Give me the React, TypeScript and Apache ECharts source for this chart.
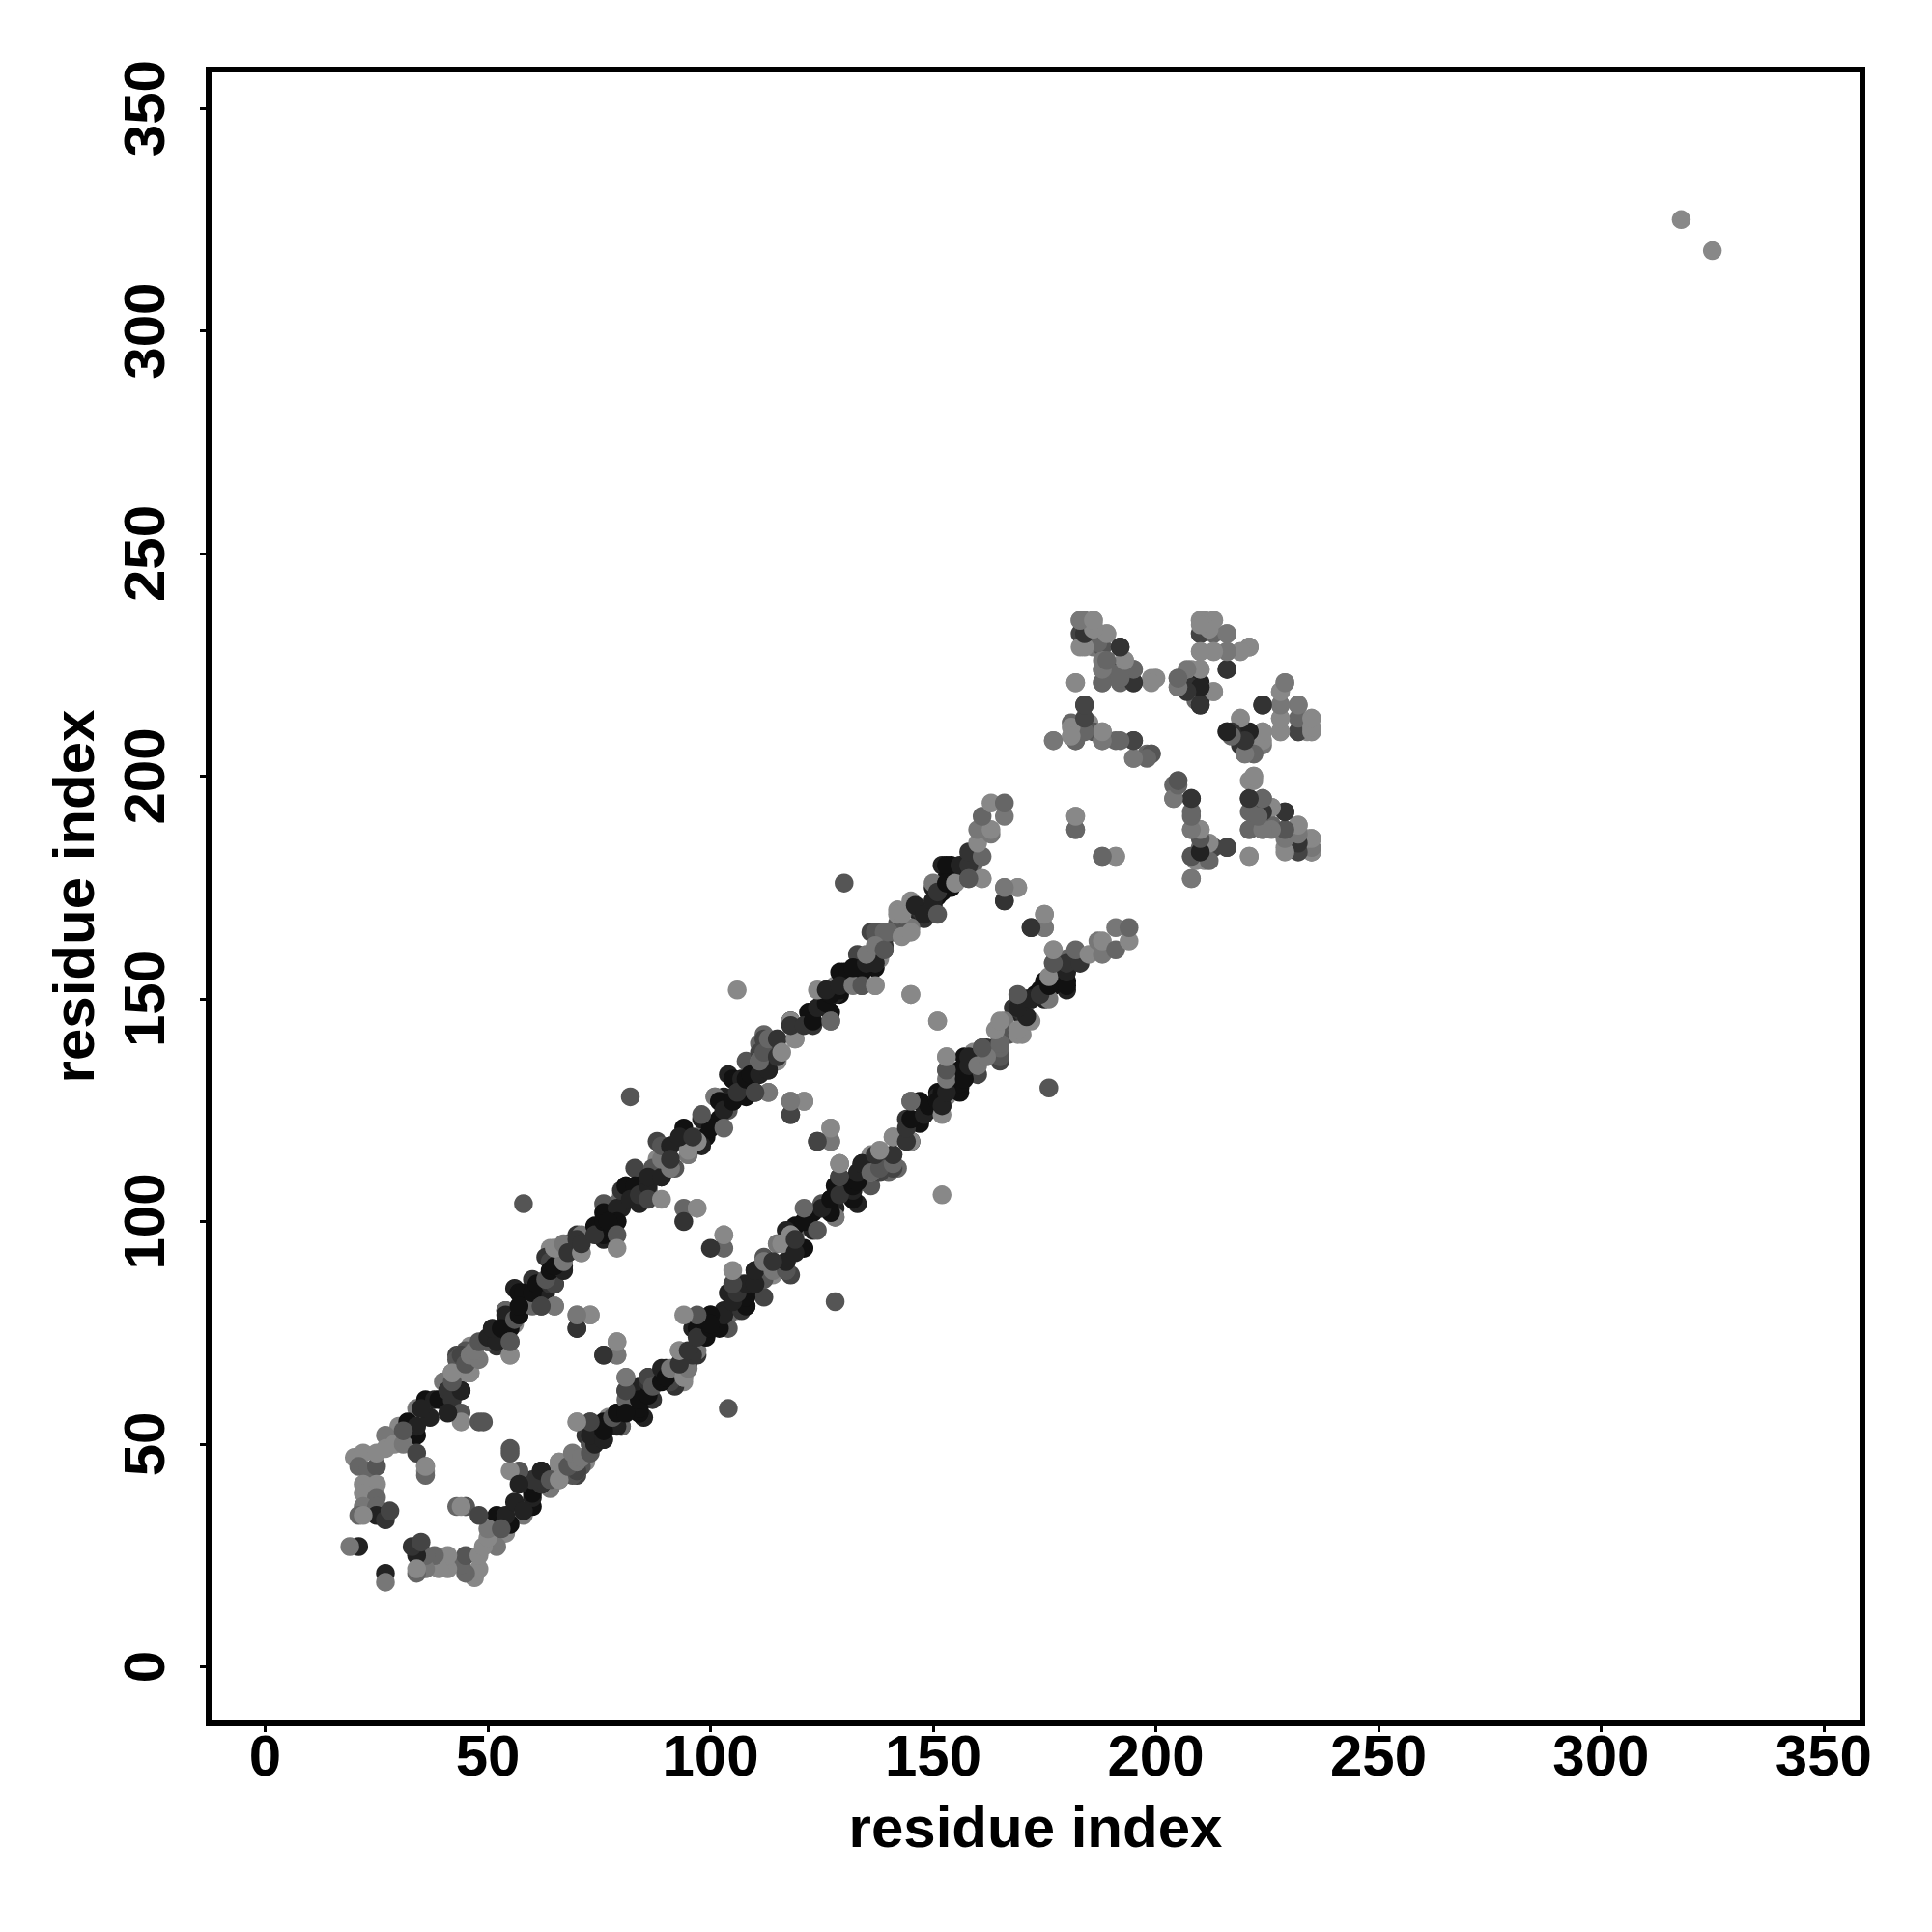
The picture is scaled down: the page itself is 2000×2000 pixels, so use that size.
import React, { useEffect, useRef } from "react";
import * as echarts from "echarts";

const tickValues = [0, 50, 100, 150, 200, 250, 300, 350];
const axisTitle = "residue index";
const axisMin = -12.7;
const axisMax = 358.7;

// [residue i, residue j, darkness level: 1 is darkest, 8 is lightest]
const isolatedContacts = [
  [318, 325, 8], [21, 27, 2], [19, 27, 7],
  [58, 104, 5], [82, 128, 5], [106, 152, 8], [130, 176, 5],
  [62, 81, 4], [65, 81, 7], [70, 79, 7], [73, 79, 8], [70, 76, 3],
  [79, 73, 8], [76, 70, 3], [79, 70, 7], [81, 65, 7], [81, 62, 4],
  [70, 55, 8], [73, 55, 5], [55, 73, 4], [55, 70, 8],
  [44, 57, 5], [44, 55, 8], [48, 55, 5], [41, 57, 2], [55, 49, 5],
  [79, 97, 5], [79, 94, 8], [86, 105, 4], [89, 105, 8],
  [94, 103, 6], [97, 103, 8], [94, 100, 3], [103, 121, 6], [103, 97, 8],
  [110, 129, 4], [113, 129, 8], [118, 127, 7], [121, 127, 8], [118, 124, 4],
  [127, 121, 8], [124, 118, 4], [127, 118, 7], [129, 113, 7], [129, 110, 4], [127, 145, 6],
  [134, 153, 5], [137, 153, 8], [145, 151, 8], [151, 145, 8], [151, 169, 5],
  [158, 177, 5], [161, 177, 8], [166, 175, 7], [169, 175, 8], [166, 172, 3],
  [175, 169, 8], [172, 166, 3], [175, 166, 7], [177, 161, 8], [177, 158, 5],
  [182, 191, 8], [182, 188, 6], [188, 182, 6], [191, 182, 8],
];

const cornerContacts = [
  [20, 47, 8], [22, 48, 8], [21, 45, 6], [23, 44, 6], [25, 45, 5], [25, 48, 8],
  [27, 52, 7], [27, 49, 8], [22, 41, 8], [25, 41, 8], [22, 39, 8], [25, 38, 6],
  [22, 36, 7], [21, 34, 6], [25, 36, 6], [25, 34, 2], [27, 33, 3], [22, 34, 8], [28, 35, 4],
  [29, 50, 8], [31, 50, 7], [31, 53, 5], [36, 45, 5], [36, 44, 8], [34, 48, 4], [43, 36, 6], [45, 36, 8],
];

const edgeContacts = [
  [112, 142, 6], [111, 140, 6], [88, 118, 4], [64, 94, 8], [63, 92, 3], [43, 70, 4], [136, 165, 4], [141, 165, 6],
  [142, 170, 8], [101, 128, 6], [104, 133, 2], [152, 180, 2], [56, 85, 2], [92, 112, 5], [95, 115, 8],
  [139, 161, 4], [147, 169, 2], [46, 66, 8], [40, 64, 7], [60, 87, 3], [83, 112, 4], [108, 136, 5], [133, 160, 4],
];

const denseBandContacts = [
  [81, 105, 1], [81, 108, 1], [84, 108, 1], [80, 106, 8], [84, 104, 2], [89, 110, 1], [86, 107, 5],
  [79, 100, 1], [75, 99, 1], [75, 97, 2], [76, 96, 2], [78, 97, 5], [77, 101, 3], [79, 104, 6], [80, 103, 2],
  [71, 93, 8], [65, 94, 8], [68, 95, 4], [67, 92, 4], [70, 97, 3],
  [67, 90, 2], [65, 86, 2], [64, 88, 3], [64, 91, 4], [64, 87, 5], [61, 84, 2], [62, 82, 1], [57, 84, 1],
  [59, 82, 2], [58, 83, 2], [63, 84, 2],
  [54, 80, 4], [57, 79, 1], [56, 79, 1], [56, 77, 8], [55, 76, 1], [53, 74, 1], [51, 76, 2], [50, 73, 5], [52, 72, 3],
  [46, 72, 8], [47, 69, 8], [44, 70, 8], [45, 71, 5], [43, 69, 5], [45, 66, 8], [42, 66, 6], [42, 64, 8], [44, 62, 1], [41, 62, 1],
  [130, 156, 1], [128, 153, 8], [137, 153, 8], [134, 153, 5], [137, 157, 1], [134, 156, 1], [131, 154, 1], [129, 151, 1],
  [127, 147, 1], [123, 147, 2], [127, 145, 5], [123, 144, 3], [125, 149, 3], [126, 152, 7], [118, 145, 6], [118, 145, 3],
  [119, 141, 8], [115, 141, 8], [112, 141, 4], [115, 139, 6], [115, 136, 8], [114, 138, 3], [111, 138, 4], [111, 136, 8],
  [113, 134, 1], [108, 132, 1], [105, 132, 2], [110, 129, 4], [113, 129, 8], [105, 127, 1], [103, 128, 2], [104, 126, 7],
  [102, 123, 1], [99, 121, 6], [99, 119, 1], [98, 117, 2], [97, 118, 7], [95, 115, 7], [94, 118, 5], [91, 117, 3],
  [89, 117, 4], [91, 113, 5], [91, 112, 6], [88, 114, 8],
  [154, 180, 1], [153, 177, 1], [154, 175, 1], [150, 172, 1], [148, 168, 3], [150, 175, 2], [151, 173, 1], [150, 171, 1],
  [152, 174, 1], [157, 179, 3], [159, 180, 6], [156, 178, 1], [147, 170, 3], [145, 166, 7], [142, 167, 5], [140, 165, 6],
  [138, 165, 3], [136, 160, 5], [137, 158, 1], [138, 159, 8],
];

const upperBandContacts = [
  [30, 54, 8], [34, 58, 7], [32, 55, 1], [32, 52, 1], [34, 52, 1], [34, 54, 2], [36, 60, 1], [38, 60, 2], [37, 56, 2],
  [35, 58, 2], [39, 60, 1], [41, 62, 3], [42, 60, 3], [44, 62, 2], [42, 64, 5], [42, 66, 8],
  [44, 70, 4], [46, 66, 8], [45, 68, 5], [46, 70, 7], [48, 69, 7], [47, 71, 7], [48, 73, 5],
  [50, 73, 5], [50, 74, 2], [52, 73, 2], [51, 76, 2], [54, 80, 6], [54, 79, 2], [53, 76, 1],
  [56, 78, 5], [57, 79, 1], [57, 84, 1], [58, 84, 1], [60, 81, 6], [57, 81, 1], [60, 84, 1],
  [61, 86, 1], [64, 86, 3], [65, 86, 4], [63, 87, 5], [64, 89, 1], [67, 89, 2], [65, 90, 1],
  [67, 91, 7], [65, 94, 8], [67, 95, 7], [68, 93, 3], [71, 97, 7], [70, 96, 3], [71, 93, 8], [71, 95, 3],
  [74, 99, 1], [76, 97, 1], [74, 97, 3], [76, 100, 1], [78, 98, 1],
  [76, 104, 5], [76, 102, 1], [79, 103, 2], [79, 100, 1], [77, 100, 1], [80, 107, 3], [81, 108, 1],
  [83, 108, 1], [82, 105, 2], [84, 106, 3], [86, 108, 2], [87, 112, 5], [86, 110, 2], [89, 110, 2],
  [89, 114, 7], [89, 117, 5], [91, 117, 2], [91, 112, 7], [91, 114, 3], [94, 121, 1], [95, 116, 8],
  [97, 118, 8], [93, 119, 2], [96, 119, 3], [98, 123, 2], [100, 121, 1], [98, 124, 5], [101, 128, 7],
  [102, 127, 1], [104, 125, 5], [103, 125, 2], [105, 127, 1], [105, 132, 1], [107, 132, 2], [108, 128, 1],
  [106, 129, 3], [108, 132, 1], [109, 133, 1], [111, 133, 2], [113, 134, 2], [111, 136, 6], [112, 138, 5],
  [113, 141, 6], [115, 141, 3], [115, 137, 3], [116, 138, 8], [119, 141, 8], [118, 145, 8], [118, 144, 3],
  [122, 147, 1], [121, 144, 3], [123, 145, 1], [124, 148, 2], [126, 149, 1], [126, 152, 6], [128, 151, 2], [129, 152, 1],
  [124, 152, 8], [127, 151, 1], [126, 152, 2], [129, 156, 1], [131, 156, 1], [129, 153, 2], [132, 153, 7],
  [132, 157, 1], [135, 158, 2], [137, 158, 2], [135, 160, 7], [139, 162, 3], [137, 165, 5], [139, 165, 6],
  [137, 162, 7], [139, 161, 5], [140, 165, 6], [143, 164, 8], [145, 165, 8], [142, 169, 8], [143, 169, 8], [145, 172, 8], [146, 171, 2], [148, 169, 2],
  [150, 172, 2], [150, 176, 7], [151, 174, 3], [153, 180, 1], [153, 176, 1], [155, 176, 8], [156, 180, 2],
  [158, 180, 3], [158, 183, 3], [161, 182, 6], [160, 185, 8], [163, 187, 7], [160, 188, 7], [163, 188, 8],
  [161, 191, 6], [166, 191, 7], [163, 194, 8], [166, 194, 6],
];

const blobContacts = [
  [183, 235, 8], [184, 235, 7], [186, 235, 8], [186, 234, 8], [183, 232, 4], [185, 232, 3], [183, 229, 8], [186, 229, 7],
  [187, 232, 7], [189, 232, 8], [188, 229, 5], [192, 229, 3], [188, 226, 7], [193, 226, 8], [192, 224, 3],
  [192, 221, 6], [188, 221, 6], [188, 224, 7], [191, 223, 6], [195, 224, 6], [195, 221, 3], [199, 222, 8], [200, 222, 8], [182, 221, 8],
  [210, 232, 4], [213, 232, 6], [216, 232, 7], [210, 235, 8], [211, 235, 8], [213, 235, 8], [210, 228, 8],
  [213, 228, 8], [216, 228, 7], [219, 228, 8], [221, 229, 7], [216, 224, 3], [208, 224, 8], [210, 224, 8],
  [205, 222, 6], [205, 220, 7], [210, 221, 2], [208, 220, 3], [213, 219, 8], [210, 217, 3], [209, 217, 6], [210, 216, 2],
  [229, 221, 8], [228, 219, 8], [224, 216, 3], [232, 216, 7], [228, 216, 7], [228, 213, 8], [232, 210, 4],
  [235, 213, 8], [233, 212, 8], [235, 210, 8], [228, 210, 8], [234, 210, 8],
  [219, 213, 8], [216, 210, 3], [220, 210, 2], [224, 210, 8], [224, 207, 7], [219, 207, 3], [220, 205, 7], [222, 205, 6],
  [184, 216, 4], [177, 208, 7], [181, 212, 6], [182, 208, 5], [185, 212, 8], [183, 210, 2], [186, 210, 5],
  [188, 210, 8], [188, 208, 7], [191, 208, 6], [195, 208, 3], [195, 204, 7], [198, 205, 6], [199, 205, 5],
  [205, 199, 5], [204, 198, 6], [204, 195, 7], [208, 195, 4], [208, 192, 6], [208, 188, 7], [210, 188, 8],
  [208, 182, 6], [210, 184, 6], [211, 181, 8], [209, 181, 8], [213, 184, 4], [216, 184, 4], [208, 177, 7], [221, 182, 8],
  [222, 200, 8], [221, 199, 8], [221, 195, 3], [224, 195, 6], [222, 192, 6], [221, 188, 6], [224, 188, 7],
  [226, 193, 8], [229, 192, 3], [226, 189, 6], [230, 187, 6], [229, 184, 8], [232, 184, 3], [232, 189, 8], [233, 186, 8], [235, 183, 7], [235, 186, 8],
];

const contacts = [...edgeContacts, ...denseBandContacts, ...upperBandContacts, ...cornerContacts, ...blobContacts, ...isolatedContacts];
const points = [...contacts, ...contacts.map(([i, j, level]) => [j, i, level])];

const font = "Liberation Sans";

export default function App() {
  const ref = useRef<HTMLDivElement>(null);
  useEffect(() => {
    const chart = echarts.init(ref.current!, undefined, { renderer: "svg" });
    const axis = (extra: any) => ({
      type: "value",
      min: axisMin,
      max: axisMax,
      name: axisTitle,
      nameLocation: "middle",
      nameTextStyle: { fontFamily: font, fontWeight: "bold", fontSize: 60, color: "#000" },
      axisLine: { show: false, onZero: false },
      axisTick: { show: true, length: 9, lineStyle: { color: "#000", width: 3 }, customValues: tickValues },
      splitLine: { show: false },
      ...extra,
    });
    chart.setOption({
      animation: false,
      backgroundColor: "#fff",
      grid: {
        show: true,
        left: 216,
        top: 72,
        width: 1712,
        height: 1712,
        borderColor: "#000",
        borderWidth: 6,
        backgroundColor: "#fff",
        containLabel: false,
      },
      xAxis: axis({
        nameGap: 77,
        axisLabel: {
          customValues: tickValues,
          fontFamily: font,
          fontWeight: "bold",
          fontSize: 60,
          color: "#000",
          margin: 3,
        },
      }),
      yAxis: axis({
        nameGap: 110,
        nameRotate: 90,
        axisLabel: {
          customValues: tickValues,
          fontFamily: font,
          fontWeight: "bold",
          fontSize: 60,
          color: "#000",
          rotate: 90,
          margin: 67,
          align: "center",
          verticalAlign: "middle",
        },
      }),
      series: [
        {
          type: "scatter",
          symbol: "circle",
          symbolSize: 19.5,
          data: points,
          itemStyle: {
            opacity: 1,
            color: (p: any) => {
              const g = p.data[2] * 17;
              return `rgb(${g},${g},${g})`;
            },
          },
        },
      ],
    });
    return () => chart.dispose();
  }, []);
  return <div ref={ref} style={{ position: "absolute", left: 0, top: 0, width: 2000, height: 2000 }} />;
}
